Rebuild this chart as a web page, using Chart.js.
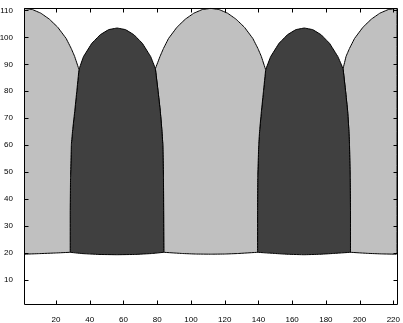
<!DOCTYPE html>
<html lang="en">
<head>
<meta charset="UTF-8">
<title>Arcs</title>
<style>
  html, body { margin: 0; padding: 0; background: #fff; }
  #wrap { width: 403px; height: 323px; }
</style>
</head>
<body>
<div id="wrap"><canvas id="chart" width="403" height="323"></canvas></div>
<script src="https://cdn.jsdelivr.net/npm/chart.js"></script>
<script>
// upper edge of the bands
const topX = [1, 6, 11, 16, 21, 26, 29, 31, 33.6,
  36.2, 41.2, 46.2, 51.2, 56.2, 61.2, 66.2, 71.2, 76.2, 78.9,
  81.7, 83.7, 86.7, 91.7, 96.7, 101.7, 106.7, 111.7, 116.7, 121.7, 126.7, 131.7, 136.7, 139.7, 141.7, 144.3,
  147.2, 152.2, 157.2, 162.2, 167.2, 172.2, 177.2, 182.2, 187.2, 190.2,
  192, 194, 197, 202, 207, 212, 217, 222];
const topY = [110.8, 110.35, 109.0, 106.8, 103.8, 99.6, 95.9, 93.0, 88.1,
  92.8, 97.8, 101.0, 102.9, 103.5, 102.9, 101.0, 97.8, 92.8, 88.4,
  93.0, 95.9, 99.6, 103.8, 106.8, 109.0, 110.35, 110.8, 110.35, 109.0, 106.8, 103.8, 99.6, 95.9, 93.0, 88.0,
  92.8, 97.8, 101.0, 102.9, 103.5, 102.9, 101.0, 97.8, 92.8, 88.4,
  93.0, 95.9, 99.6, 103.8, 106.8, 109.0, 110.35, 110.8];

// lower edge
const bottomX = [1, 10, 20, 28.4, 35, 45, 56.2, 67, 77, 83.9, 95, 103, 111.7, 120, 128, 139.5,
  150, 158, 167, 176, 184, 194.6, 205, 213, 222];
const bottomY = [19.5, 19.7, 19.95, 20.2, 19.75, 19.4, 19.3, 19.4, 19.75, 20.2, 19.75, 19.55, 19.5, 19.55, 19.75, 20.2,
  19.75, 19.45, 19.3, 19.45, 19.75, 20.2, 19.8, 19.6, 19.5];

// borders between light and dark bands, top to bottom
const sideY = [88.1, 80, 72.7, 66, 60.4, 48.1, 35.8, 20.2];
const side1X = [33.6, 32.3, 31.1, 29.9, 29.1, 28.6, 28.4, 28.4];
const side2X = [78.9, 80.5, 81.8, 82.7, 83.3, 83.7, 83.8, 83.9];
const side3X = [144.3, 143.0, 141.8, 140.8, 140.2, 139.6, 139.5, 139.5];
const side4X = [190.2, 191.7, 192.9, 193.6, 194.0, 194.4, 194.6, 194.6];

const xTicks = [20, 40, 60, 80, 100, 120, 140, 160, 180, 200, 220];
const yTicks = [10, 20, 30, 40, 50, 60, 70, 80, 90, 100, 110];

const light = '#c0c0c0';
const dark = '#404040';

function side(xs) {
  // side top point sits on the upper edge
  return xs.map((x, i) => ({ x, y: i === 0 ? topY[topX.indexOf(x)] : sideY[i] }));
}

function region(left, right) {
  const pts = [];
  const lx = left ? left[0].x : -Infinity;
  const rx = right ? right[0].x : Infinity;
  topX.forEach((x, i) => { if (x >= lx && x <= rx) pts.push({ x, y: topY[i] }); });
  if (right) right.slice(1).forEach(p => pts.push(p));
  const lo = left ? left[left.length - 1].x + 0.01 : -Infinity;
  const hi = right ? right[right.length - 1].x - 0.01 : Infinity;
  for (let i = bottomX.length - 1; i >= 0; i--) {
    if (bottomX[i] > lo && bottomX[i] < hi) pts.push({ x: bottomX[i], y: bottomY[i] });
  }
  if (left) left.slice().reverse().forEach(p => pts.push(p));
  return pts;
}

const s1 = side(side1X), s2 = side(side2X), s3 = side(side3X), s4 = side(side4X);
const bands = [
  [region(null, s1), light],
  [region(s1, s2), dark],
  [region(s2, s3), light],
  [region(s3, s4), dark],
  [region(s4, null), light]
];

// box round the plot with inward ticks on all four sides
const boxTicks = {
  id: 'boxTicks',
  afterDatasetsDraw(chart) {
    const { ctx, chartArea: a, scales: { x, y } } = chart;
    const L = Math.round(a.left) + 0.5, R = Math.round(a.right) + 0.5;
    const T = Math.round(a.top) + 0.5, B = Math.round(a.bottom) + 0.5;
    const len = 4;
    ctx.save();
    ctx.strokeStyle = '#000';
    ctx.lineWidth = 1;
    ctx.beginPath();
    ctx.rect(L, T, R - L, B - T);
    xTicks.forEach(v => {
      const px = Math.round(x.getPixelForValue(v)) + 0.5;
      ctx.moveTo(px, B); ctx.lineTo(px, B - len);
      ctx.moveTo(px, T); ctx.lineTo(px, T + len);
    });
    yTicks.forEach(v => {
      const py = Math.round(y.getPixelForValue(v)) + 0.5;
      ctx.moveTo(L, py); ctx.lineTo(L + len, py);
      ctx.moveTo(R, py); ctx.lineTo(R - len, py);
    });
    ctx.stroke();
    ctx.restore();
  }
};

const font = { family: "'Liberation Sans', Arial, sans-serif", size: 8 };

new Chart(document.getElementById('chart'), {
  type: 'scatter',
  data: {
    datasets: bands.map(([pts, color]) => ({
      data: pts,
      showLine: true,
      fill: 'shape',
      backgroundColor: color,
      borderColor: '#000',
      borderWidth: 1,
      borderJoinStyle: 'round',
      pointRadius: 0,
      // tiny tension keeps the straight-segment path (no fast path that merges columns)
      tension: 0.0001
    }))
  },
  options: {
    responsive: false,
    animation: false,
    layout: { padding: { top: 6, right: 1, left: 0, bottom: 0 } },
    plugins: { legend: { display: false }, tooltip: { enabled: false } },
    scales: {
      x: {
        type: 'linear',
        min: 1,
        max: 222,
        afterBuildTicks: s => { s.ticks = xTicks.map(v => ({ value: v })); },
        afterFit: s => { s.height = 19; },
        grid: { display: false },
        border: { display: false },
        ticks: { font, color: '#000', padding: 3, maxRotation: 0, autoSkip: false }
      },
      y: {
        type: 'linear',
        min: 1,
        max: 111,
        afterBuildTicks: s => { s.ticks = yTicks.map(v => ({ value: v })); },
        afterFit: s => { s.width = 24; },
        grid: { display: false },
        border: { display: false },
        ticks: { font, color: '#000', padding: 3, autoSkip: false }
      }
    }
  },
  plugins: [boxTicks]
});
</script>
</body>
</html>
